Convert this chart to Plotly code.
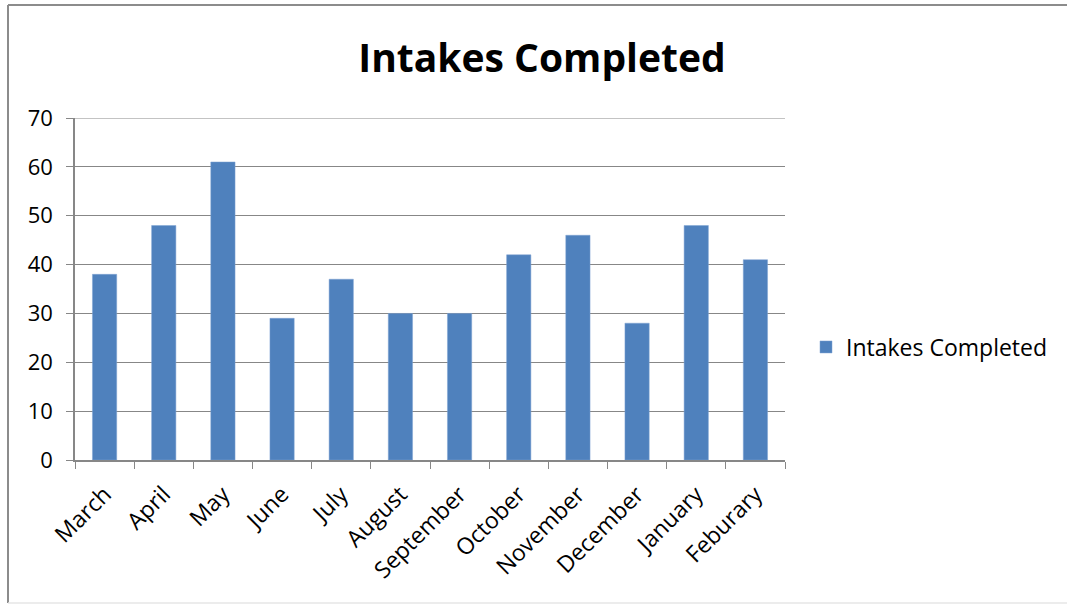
import plotly.graph_objects as go

months = ["March", "April", "May", "June", "July", "August", "September",
          "October", "November", "December", "January", "Feburary"]
intakes = [38, 48, 61, 29, 37, 30, 30, 42, 46, 28, 48, 41]
series_name = "Intakes Completed"
title_text = "Intakes Completed"
y_ticks = [0, 10, 20, 30, 40, 50, 60, 70]

FONT = "Open Sans"
GRID = "#878787"

fig = go.Figure()
fig.add_trace(go.Bar(
    x=months, y=intakes, name=series_name,
    marker=dict(color="#4F81BD", line=dict(color="#7FA3D3", width=0.5)),
    showlegend=True,
))

fig.update_layout(
    width=1067, height=605,
    margin=dict(l=75, r=282, t=118, b=145),
    paper_bgcolor="white", plot_bgcolor="white",
    bargap=0.59,
    title=dict(text="<b>" + title_text + "</b>", x=542 / 1067, xanchor="center",
               y=1 - 58 / 605, yanchor="middle",
               font=dict(family=FONT, size=39, color="black")),
    font=dict(family=FONT, size=17, color="black"),
    showlegend=True,
    legend=dict(x=(806 - 75) / 710, xanchor="left", y=(460 - 347) / 342, yanchor="middle",
                font=dict(family=FONT, size=23, color="black"),
                bgcolor="rgba(0,0,0,0)", itemwidth=30),
    xaxis=dict(
        type="category", tickson="boundaries", ticks="outside", ticklen=7,
        tickcolor=GRID, showline=True, linecolor=GRID, linewidth=1.5,
        tickangle=-45, showgrid=False, tickfont=dict(size=23), automargin=False,
        ticklabelstandoff=10,
    ),
    yaxis=dict(
        range=[0, 70], tickvals=y_ticks, ticks="outside", ticklen=7,
        tickcolor=GRID, showline=True, linecolor=GRID, linewidth=1.5,
        showgrid=True, gridcolor=GRID, gridwidth=1.2, zeroline=False,
        tickfont=dict(size=22), automargin=False, ticklabelstandoff=9,
    ),
    shapes=[
        dict(type="line", xref="paper", yref="y",
             x0=0, x1=1, y0=y_ticks[-1], y1=y_ticks[-1],
             line=dict(color=GRID, width=1.2)),
        dict(type="line", xref="paper", yref="paper",
             x0=(8 - 75) / 710, x1=(1067 - 75) / 710,
             y0=(460 - 5) / 342, y1=(460 - 5) / 342,
             line=dict(color="#8C8C8C", width=2)),
        dict(type="line", xref="paper", yref="paper",
             x0=(8 - 75) / 710, x1=(8 - 75) / 710,
             y0=(460 - 5) / 342, y1=(460 - 603) / 342,
             line=dict(color="#8C8C8C", width=2)),
        dict(type="line", xref="paper", yref="paper",
             x0=(8 - 75) / 710, x1=(1067 - 75) / 710,
             y0=(460 - 603) / 342, y1=(460 - 603) / 342,
             line=dict(color="#E6E6E6", width=1.5)),
    ],
)

fig.write_html("out.html", config={"displayModeBar": False},
               post_script="document.body.style.margin='0px';")
